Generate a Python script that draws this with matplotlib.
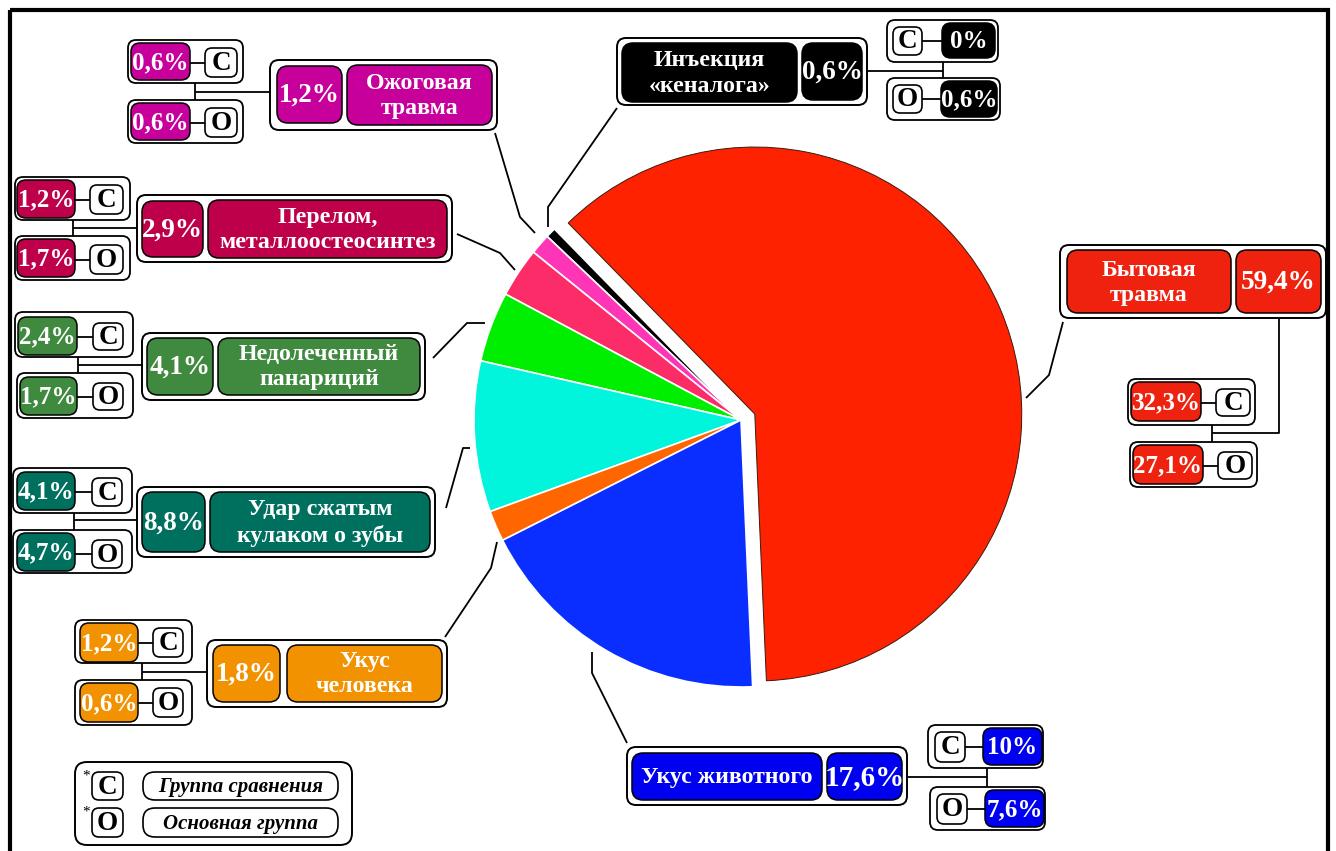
import matplotlib
matplotlib.use("Agg")
import matplotlib.pyplot as plt
from matplotlib.patches import FancyBboxPatch, Rectangle

W, H = 1336, 851
SERIF = "Liberation Serif"

# --- data -----------------------------------------------------------------
categories = ["Бытовая\nтравма", "Инъекция\n«кеналога»", "Ожоговая\nтравма",
              "Перелом,\nметаллоостеосинтез", "Недолеченный\nпанариций",
              "Удар сжатым\nкулаком о зубы", "Укус\nчеловека", "Укус животного"]
total_pct = [59.4, 0.6, 1.2, 2.9, 4.1, 8.8, 1.8, 17.6]
group_c = [32.3, 0, 0.6, 1.2, 2.4, 4.1, 1.2, 10]   # группа сравнения
group_o = [27.1, 0.6, 0.6, 1.7, 1.7, 4.7, 0.6, 7.6]  # основная группа
pie_colors = ["#ff2200", "#000000", "#ff35b8", "#fb2c68",
              "#00ee00", "#00f5dc", "#ff6600", "#0a2eff"]
box_colors = ["#ef2210", "#000000", "#c8009b", "#bd0049",
              "#3f8a3f", "#00705e", "#f39200", "#0000f0"]
legend_letters = ["С", "О"]
legend_names = ["Группа сравнения", "Основная группа"]


def fmt(v):
    if float(v).is_integer():
        return f"{int(v)}%"
    return f"{v:.1f}".replace(".", ",") + "%"


# --- layout (image pixel coords) -------------------------------------------
# outer, name box, pct box, sub C / sub O (outer, pct, letter),
# connector polylines, leader from the pie
layout = [
    dict(outer=(1060, 245, 1326, 318), name=(1067, 250, 1231, 313), pct=(1236, 250, 1321, 313),
         c=((1128, 379, 1255, 425), (1131, 382, 1201, 421), (1216, 389, 1250, 416)),
         o=((1130, 442, 1257, 487), (1133, 445, 1203, 484), (1218, 452, 1252, 479)),
         conn=[[(1279, 318), (1279, 433), (1212, 433)], [(1212, 425), (1212, 442)]],
         lead=[(1026, 398), (1049, 375), (1063, 322)]),
    dict(outer=(617, 38, 867, 105), name=(622, 43, 797, 102), pct=(802, 43, 862, 100),
         c=((887, 20, 998, 62), (942, 23, 995, 58), (893, 27, 922, 55)),
         o=((887, 78, 1000, 120), (941, 81, 997, 117), (893, 85, 922, 113)),
         conn=[[(867, 71), (943, 71)], [(943, 62), (943, 78)]],
         lead=[(548, 227), (548, 207), (617, 108)]),
    dict(outer=(270, 60, 497, 130), name=(347, 65, 492, 125), pct=(277, 66, 342, 123),
         c=((128, 40, 243, 83), (131, 43, 190, 80), (205, 48, 237, 77)),
         o=((128, 100, 243, 143), (131, 103, 190, 140), (205, 108, 237, 137)),
         conn=[[(195, 83), (195, 100)], [(195, 92), (270, 92)]],
         lead=[(535, 233), (520, 217), (495, 133)]),
    dict(outer=(137, 195, 452, 262), name=(208, 200, 447, 258), pct=(142, 201, 203, 257),
         c=((15, 177, 130, 220), (17, 180, 75, 218), (90, 185, 123, 214)),
         o=((15, 236, 130, 280), (17, 239, 75, 277), (90, 245, 123, 274)),
         conn=[[(73, 220), (73, 236)], [(73, 228), (137, 228)]],
         lead=[(515, 270), (500, 253), (457, 234)]),
    dict(outer=(142, 333, 425, 400), name=(218, 338, 420, 395), pct=(147, 338, 213, 395),
         c=((15, 312, 133, 357), (18, 317, 77, 355), (93, 323, 123, 350)),
         o=((17, 373, 133, 418), (20, 377, 77, 415), (93, 383, 123, 410)),
         conn=[[(78, 357), (78, 373)], [(78, 365), (142, 365)]],
         lead=[(485, 323), (467, 323), (433, 358)]),
    dict(outer=(137, 487, 435, 557), name=(210, 492, 430, 552), pct=(142, 492, 205, 552),
         c=((13, 468, 132, 513), (17, 472, 75, 510), (92, 478, 122, 506)),
         o=((13, 530, 132, 573), (17, 533, 75, 571), (92, 540, 122, 568)),
         conn=[[(74, 513), (74, 530)], [(74, 520), (137, 520)]],
         lead=[(470, 448), (463, 448), (446, 508)]),
    dict(outer=(207, 640, 447, 707), name=(287, 645, 442, 702), pct=(213, 645, 280, 702),
         c=((75, 620, 192, 663), (80, 623, 138, 662), (153, 628, 183, 657)),
         o=((75, 680, 192, 725), (80, 683, 138, 722), (153, 688, 183, 717)),
         conn=[[(142, 663), (142, 680)], [(142, 672), (207, 672)]],
         lead=[(497, 542), (491, 568), (445, 637)]),
    dict(outer=(627, 747, 907, 805), name=(632, 753, 822, 800), pct=(827, 753, 902, 800),
         c=((928, 725, 1043, 768), (983, 728, 1042, 765), (935, 732, 965, 762)),
         o=((930, 787, 1045, 830), (985, 790, 1044, 827), (937, 794, 967, 824)),
         conn=[[(907, 777), (987, 777)], [(987, 768), (987, 787)]],
         lead=[(592, 652), (592, 673), (627, 743)]),
]

fig = plt.figure(figsize=(W / 100, H / 100), dpi=100)
ax = fig.add_axes([0, 0, 1, 1])


def rbox(b, fc, r=9, lw=1.3, ec="black", z=3):
    x0, y0, x1, y1 = b
    ax.add_patch(FancyBboxPatch((x0, y0), x1 - x0, y1 - y0,
                                boxstyle=f"round,pad=0,rounding_size={r}",
                                fc=fc, ec=ec, lw=lw, zorder=z))


def ctext(b, s, size, color="white", style="normal", z=5):
    x0, y0, x1, y1 = b
    ax.text((x0 + x1) / 2, (y0 + y1) / 2 + 1, s, ha="center", va="center",
            fontsize=size, color=color, fontweight="bold", family=SERIF,
            fontstyle=style, linespacing=1.25, zorder=z)


def poly(pts, lw=1.3):
    ax.plot([p[0] for p in pts], [p[1] for p in pts], color="black", lw=lw,
            solid_capstyle="butt", zorder=2)


# --- pie (y axis is inverted, so angles run the other way) -----------------
explode = [15] + [0] * (len(total_pct) - 1)
wedges, _ = ax.pie(total_pct, colors=pie_colors, startangle=87.5, counterclock=False,
                   center=(741, 420), radius=267, explode=explode,
                   wedgeprops=dict(edgecolor="white", linewidth=1.2))
wedges[0].set_edgecolor("#3a1a10")
wedges[0].set_linewidth(0.7)

# --- label groups ----------------------------------------------------------
for i, g in enumerate(layout):
    col = box_colors[i]
    poly(g["lead"])
    for pts in g["conn"]:
        poly(pts)
    rbox(g["outer"], "white", r=9, lw=1.4)
    rbox(g["name"], col, r=11, lw=1.1, z=4)
    rbox(g["pct"], col, r=11, lw=1.1, z=4)
    ctext(g["name"], categories[i], 17.2)
    ctext(g["pct"], fmt(total_pct[i]), 21 if i == 7 else 19.5)
    for key, val, letter in (("c", group_c[i], "С"), ("o", group_o[i], "О")):
        outer, pb, lb = g[key]
        rbox(outer, "white", r=8, lw=1.3)
        ym = (lb[1] + lb[3]) / 2
        if pb[0] < lb[0]:
            xa, xb = pb[2], lb[0]
        else:
            xa, xb = lb[2], pb[0]
        ax.plot([xa, xb], [ym, ym], color="black", lw=1.3, zorder=3.5)
        rbox(pb, col, r=9, lw=1.1, z=4)
        rbox(lb, "white", r=7, lw=1.2, z=4)
        ctext(pb, fmt(val), 18)
        ctext(lb, letter, 19.5, color="black")

# --- legend ----------------------------------------------------------------
rbox((75, 762, 352, 845), "white", r=12, lw=1.4)
rows = [(772, 800), (808, 837)]
for (y0, y1), letter, name in zip(rows, legend_letters, legend_names):
    rbox((92, y0, 123, y1), "white", r=7, lw=1.2, z=4)
    ctext((92, y0, 123, y1), letter, 19.5, color="black")
    ax.text(86, y0 + 4, "*", ha="center", va="center", fontsize=11,
            family=SERIF, zorder=5)
    ax.plot([128, 138], [(y0 + y1) / 2, (y0 + y1) / 2], color="black", lw=1.2)
    rbox((143, y0, 338, y1), "white", r=12, lw=1.2, z=4)
    ctext((143, y0, 338, y1), name, 15, color="black", style="italic")

# frame around the whole picture
ax.add_patch(Rectangle((9.5, 9.5), 1318, 860, fill=False, ec="black", lw=3, zorder=10))

ax.set_xlim(0, W)
ax.set_ylim(H, 0)
ax.set_aspect("equal")
ax.axis("off")
fig.savefig("out.png", dpi=100)
